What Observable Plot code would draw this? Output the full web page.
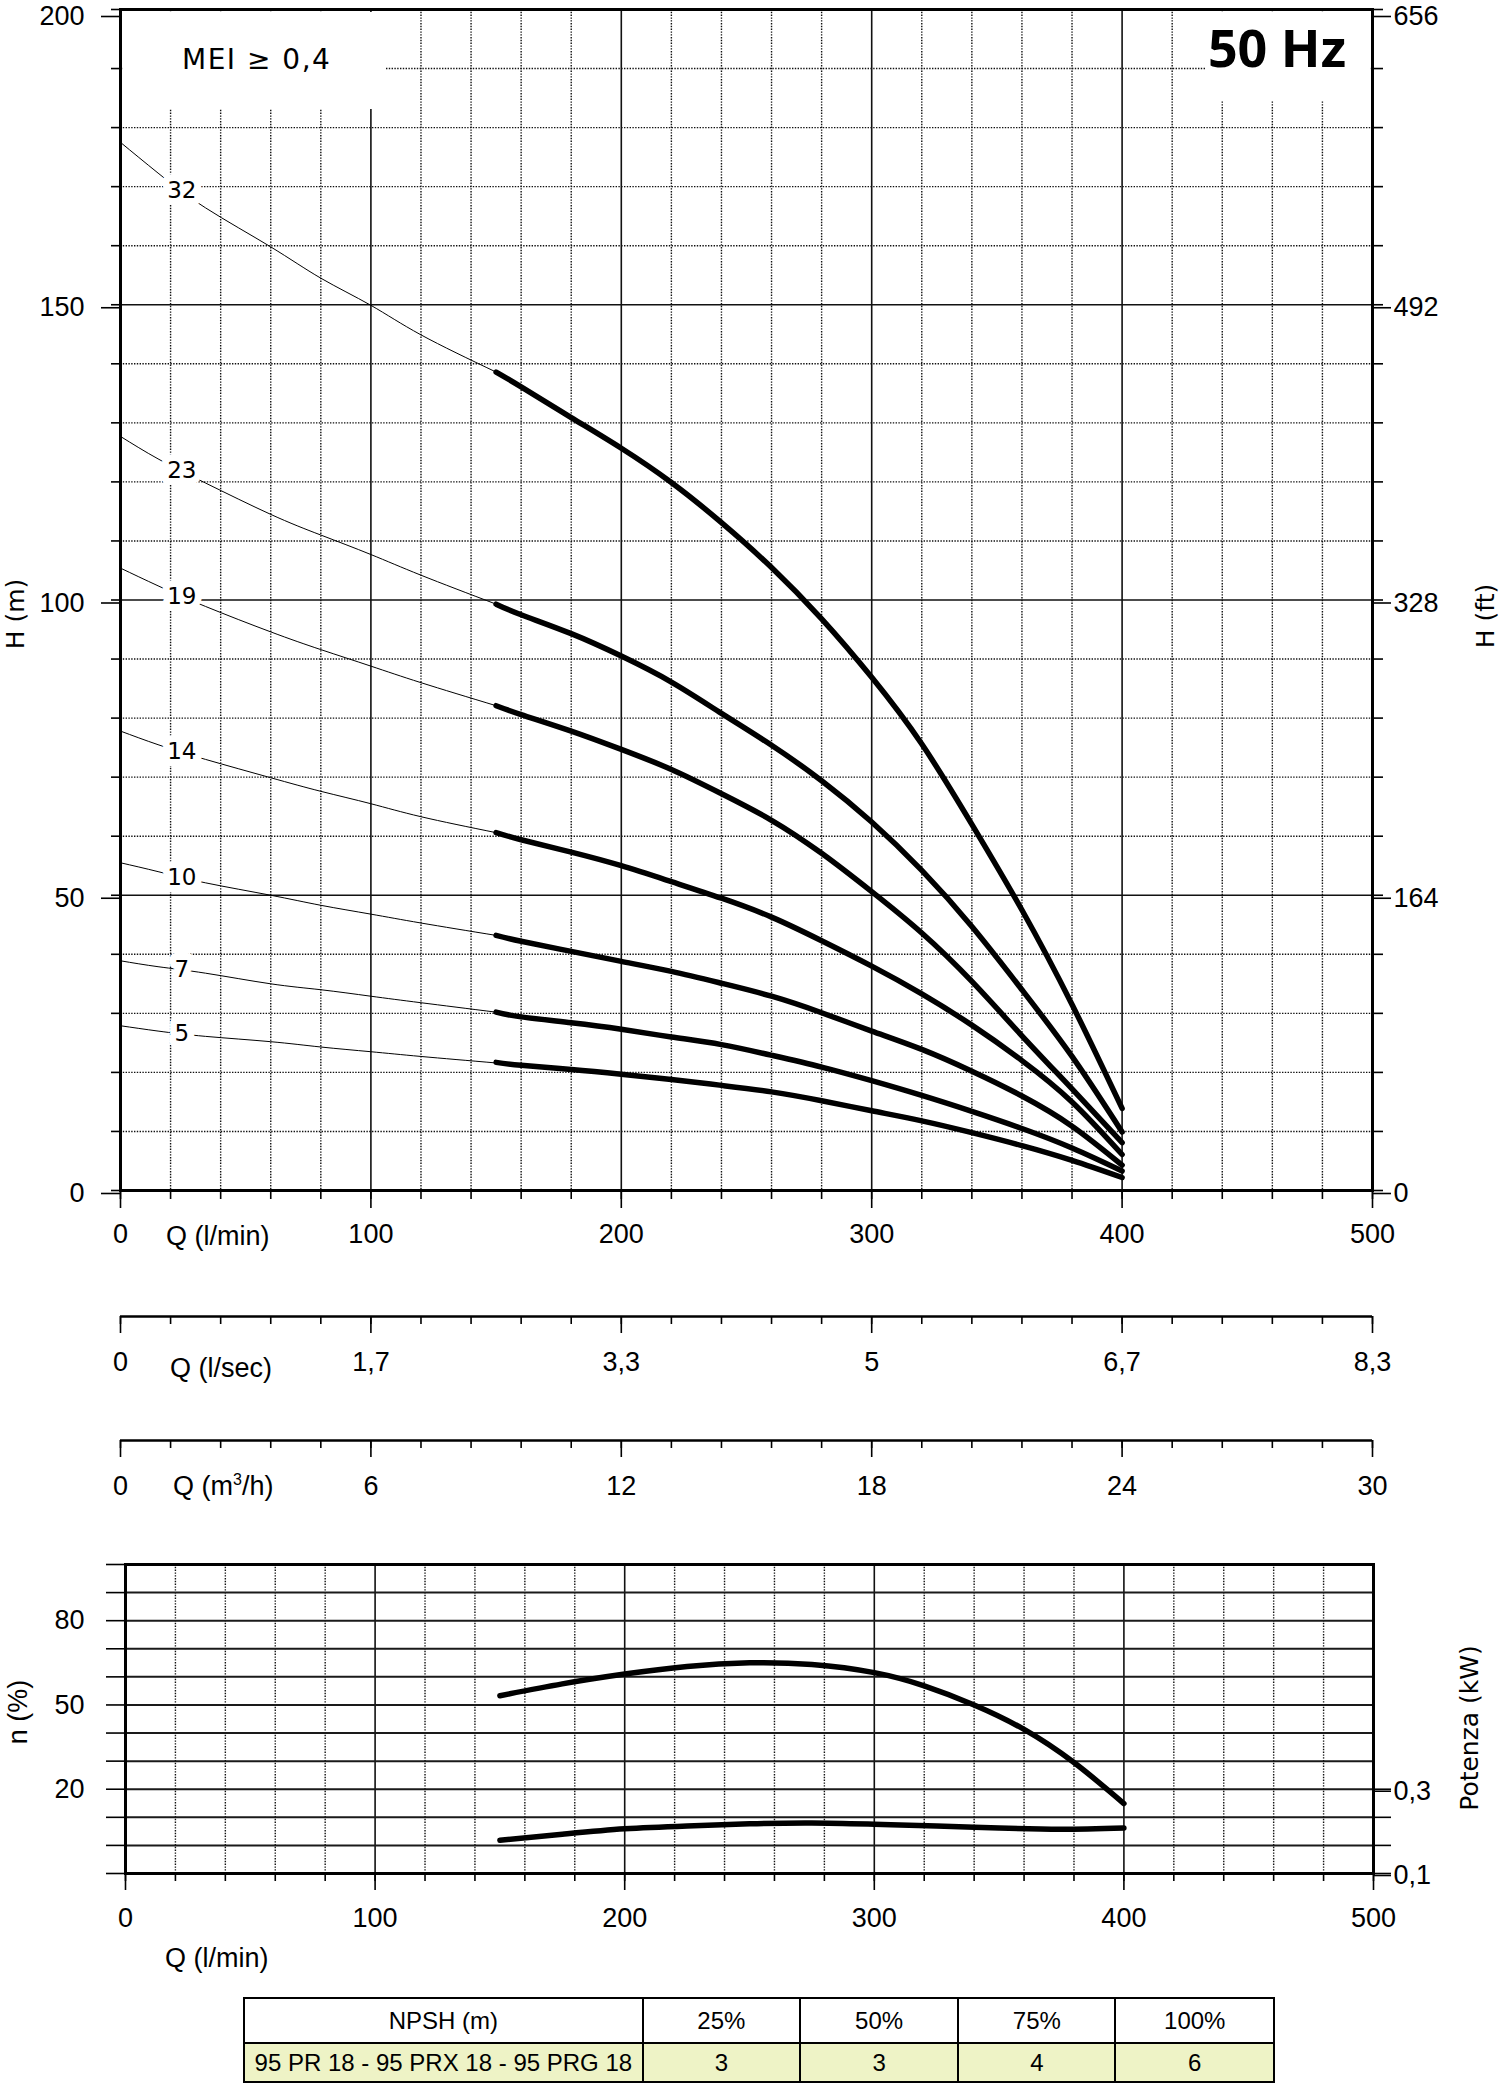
<!DOCTYPE html>
<html><head><meta charset="utf-8">
<script src="https://cdn.jsdelivr.net/npm/d3@7"></script>
<script src="https://cdn.jsdelivr.net/npm/@observablehq/plot@0.6"></script>
<style>
body{margin:0;background:#fff;}
#root{position:relative;width:1500px;height:2086px;overflow:hidden;background:#fff;color:#000;}
.abs{position:absolute;white-space:nowrap;}
.cond{font-family:"Liberation Sans",Arial,sans-serif;}
.wide{font-family:"DejaVu Sans",Verdana,sans-serif;}
.rot{transform:translate(-50%,-50%) rotate(-90deg);}
.vc{transform:translateY(-50%);}
table.npsh{position:absolute;left:243px;top:1997px;width:1032px;border-collapse:collapse;font-size:24px;}
table.npsh td{border:2.5px solid #000;text-align:center;padding:0;}
table.npsh tr.h td{height:43px;background:#fff;}
table.npsh tr.v td{height:37px;background:#eef3c6;}
</style></head><body><div id="root"></div>
<script>
// ---------------- data ----------------
const stages = [32, 23, 19, 14, 10, 7, 5];
// thin (out-of-range) part of each curve, Q in l/min, H in m
const qThin = [0, 15, 34, 60, 80, 100, 120, 150];
const hThin32 = [177.5, 172.3, 166.4, 159.8, 154.5, 149.9, 144.9, 138.6];
const hThin23 = [127.7, 123.9, 119.8, 114.5, 111.0, 107.7, 104.2, 99.3];
const hThin19 = [105.4, 102.4, 98.9, 94.6, 91.6, 88.8, 86.0, 82.1];
const hThin14 = [77.8, 75.5, 73.0, 69.9, 67.6, 65.5, 63.3, 60.6];
const hThin10 = [55.5, 54.0, 52.1, 50.0, 48.3, 46.8, 45.3, 43.2];
const hThin7  = [38.9, 37.9, 36.8, 35.0, 34.0, 32.9, 31.8, 30.2];
const hThin5  = [27.9, 27.0, 26.1, 25.2, 24.3, 23.5, 22.7, 21.6];
// thick (working range) part
const qThick = [150, 160, 180, 200, 220, 240, 260, 280, 300, 320, 340, 360, 380, 400];
const hThick32 = [138.6, 136.1, 130.9, 125.7, 119.9, 113.1, 105.5, 96.8, 86.9, 75.6, 62.0, 47.5, 31.5, 13.9];
const hThick23 = [99.3, 97.5, 94.3, 90.5, 86.1, 80.8, 75.4, 69.4, 62.4, 54.2, 44.7, 34.0, 22.7, 9.9];
const hThick19 = [82.1, 80.6, 77.8, 74.7, 71.3, 67.2, 62.7, 57.1, 50.6, 43.6, 35.4, 26.2, 17.2, 8.1];
const hThick14 = [60.6, 59.4, 57.3, 55.0, 52.3, 49.5, 46.3, 42.3, 38.0, 33.3, 28.0, 22.0, 15.0, 6.1];
const hThick10 = [43.2, 42.2, 40.5, 38.8, 37.1, 35.1, 32.9, 30.1, 27.0, 23.9, 20.2, 16.0, 10.9, 4.3];
const hThick7  = [30.2, 29.4, 28.4, 27.3, 26.0, 24.7, 22.9, 20.9, 18.6, 16.1, 13.4, 10.5, 7.2, 3.3];
const hThick5  = [21.7, 21.2, 20.5, 19.7, 18.8, 17.8, 16.7, 15.2, 13.5, 11.8, 9.8, 7.6, 5.1, 2.2];
// axes
const hTicks = [0, 50, 100, 150, 200];
const ftTicks = ["0", "164", "328", "492", "656"];
const qTicks = [0, 100, 200, 300, 400, 500];
const lsecTicks = ["0", "1,7", "3,3", "5", "6,7", "8,3"];
const m3hTicks = ["0", "6", "12", "18", "24", "30"];
// efficiency / power
const qEff = [150, 175, 200, 225, 250, 275, 300, 320, 340, 360, 380, 400];
const effPct = [53.3, 57.5, 61.0, 63.7, 65.0, 64.4, 61.5, 56.8, 50.0, 41.3, 29.5, 14.9];
const qPow = [150, 175, 200, 225, 250, 275, 300, 325, 350, 375, 400];
const powKw = [0.179, 0.193, 0.206, 0.213, 0.218, 0.220, 0.217, 0.213, 0.208, 0.205, 0.208];
const effTicks = [20, 50, 80];
const kwTickVals = [0.3, 0.1];
const kwTickLabels = ["0,3", "0,1"];
// NPSH table
const npshHeader = ["NPSH (m)", "25%", "50%", "75%", "100%"];
const npshModel = "95 PR 18 - 95 PRX 18 - 95 PRG 18";
const npshValues = [3, 3, 4, 6];

// ---------------- build ----------------
const COND = '"Liberation Sans",Arial,sans-serif';
const WIDE = '"DejaVu Sans",Verdana,sans-serif';
const root = document.getElementById("root");
function place(node, topPx, leftPx) {
  const d = document.createElement("div");
  d.className = "abs"; d.style.top = topPx + "px"; d.style.left = (leftPx || 0) + "px";
  d.appendChild(node); root.appendChild(d); return d;
}
function html(s) { const t = document.createElement("div"); t.innerHTML = s; const n = t.firstElementChild; root.appendChild(n); return n; }

const thinSets = [hThin32, hThin23, hThin19, hThin14, hThin10, hThin7, hThin5];
const thickSets = [hThick32, hThick23, hThick19, hThick14, hThick10, hThick7, hThick5];
const thinRows = [], thickRows = [], labelRows = [];
stages.forEach((s, i) => {
  qThin.forEach((q, j) => thinRows.push({s, q, h: thinSets[i][j]}));
  qThick.forEach((q, j) => thickRows.push({s, q, h: thickSets[i][j]}));
  const a = qThin.indexOf(15), b = qThin.indexOf(34);
  labelRows.push({s, q: (qThin[a] + qThin[b]) / 2, h: (thinSets[i][a] + thinSets[i][b]) / 2});
});

const minorQ = d3.range(20, 500, 20).filter(q => q % 100 !== 0);
const majorQ = [100, 200, 300, 400];
const allQ20 = d3.range(0, 501, 20);
const dotted = {stroke: "#111", strokeWidth: 1.4, strokeDasharray: "1.4,1.4"};
const solid = {stroke: "#111", strokeWidth: 1.6};
const blank = () => "";
const baseStyle = {fontFamily: COND, fontSize: "27px", color: "#000", background: "transparent", overflow: "visible"};
const hTop = hTicks[hTicks.length - 1];
const hLow = hTicks.slice(0, -1);

const topChart = Plot.plot({
  width: 1500, height: 1262, marginLeft: 120, marginRight: 128, marginTop: 9, marginBottom: 72,
  x: {domain: [0, 500], label: null}, y: {domain: [0, 200], label: null},
  style: baseStyle,
  marks: [
    Plot.ruleX(minorQ, dotted),
    Plot.ruleY(d3.range(10, 200, 10).filter(h => h % 50 !== 0), dotted),
    Plot.ruleX(majorQ, solid),
    Plot.ruleY([50, 100, 150], solid),
    Plot.line(thinRows, {x: "q", y: "h", z: "s", stroke: "#000", strokeWidth: 1, curve: "natural"}),
    Plot.line(thickRows, {x: "q", y: "h", z: "s", stroke: "#000", strokeWidth: 5.5, curve: "natural", strokeLinecap: "round"}),
    Plot.text(labelRows, {x: "q", y: "h", text: d => String(d.s), fontFamily: WIDE, fontSize: 23, fill: "#000", stroke: "#fff", strokeWidth: 14, paintOrder: "stroke"}),
    Plot.frame({stroke: "#000", strokeWidth: 3}),
    Plot.axisY({ticks: d3.range(0, 201, 10), tickSize: 9, tickFormat: blank, strokeWidth: 1.6, label: null}),
    Plot.axisY({ticks: hLow, tickSize: 19, tickPadding: 17, dy: 3, strokeWidth: 1.6, label: null}),
    Plot.axisY({ticks: [hTop], tickSize: 19, tickPadding: 17, dy: 7, strokeWidth: 1.6, label: null}),
    Plot.axisY({anchor: "right", ticks: d3.range(0, 201, 10), tickSize: 10, tickFormat: blank, strokeWidth: 1.6, label: null}),
    Plot.axisY({anchor: "right", ticks: hLow, tickSize: 18, tickPadding: 3, dy: 3, strokeWidth: 1.6, tickFormat: d => ftTicks[hTicks.indexOf(d)], label: null}),
    Plot.axisY({anchor: "right", ticks: [hTop], tickSize: 18, tickPadding: 3, dy: 7, strokeWidth: 1.6, tickFormat: d => ftTicks[hTicks.indexOf(d)], label: null}),
    Plot.axisX({ticks: allQ20, tickSize: 9, tickFormat: blank, strokeWidth: 1.6, label: null}),
    Plot.axisX({ticks: qTicks, tickSize: 18, tickPadding: 15, strokeWidth: 1.6, label: null})
  ]
});
place(topChart, 0, 0);

function strip(labels, topPx) {
  const p = Plot.plot({
    width: 1500, height: 90, marginLeft: 120, marginRight: 128, marginTop: 0, marginBottom: 74,
    x: {domain: [0, 500], label: null}, y: {domain: [0, 1], label: null, axis: null},
    style: baseStyle,
    marks: [
      Plot.ruleY([0], {stroke: "#000", strokeWidth: 2.5}),
      Plot.axisX({ticks: allQ20, tickSize: 8, tickFormat: blank, strokeWidth: 1.6, label: null}),
      Plot.axisX({ticks: qTicks, tickSize: 17, tickPadding: 18, strokeWidth: 1.6, tickFormat: d => labels[qTicks.indexOf(d)], label: null})
    ]
  });
  place(p, topPx, 0);
}
strip(lsecTicks, 1300);
strip(m3hTicks, 1424);

const kwToPct = kw => -10 + (kw - 0.1) * 150; // right axis: 0,1 kW at -10 %, 0,3 kW at 20 %
const effRows = qEff.map((q, i) => ({q, n: effPct[i]}));
const powRows = qPow.map((q, i) => ({q, kw: powKw[i]}));
const kwPos = kwTickVals.map(kwToPct);
const bottomChart = Plot.plot({
  width: 1500, height: 400, marginLeft: 125, marginRight: 127, marginTop: 24, marginBottom: 67,
  x: {domain: [0, 500], label: null}, y: {domain: [-10, 100], label: null},
  style: baseStyle,
  marks: [
    Plot.ruleX(minorQ, dotted),
    Plot.ruleX(majorQ, solid),
    Plot.ruleY(d3.range(-10, 101, 10), {stroke: "#1a1a1a", strokeWidth: 2}),
    Plot.line(effRows, {x: "q", y: "n", stroke: "#000", strokeWidth: 5.5, curve: "natural", strokeLinecap: "round"}),
    Plot.line(powRows, {x: "q", y: d => kwToPct(d.kw), stroke: "#000", strokeWidth: 5.5, curve: "natural", strokeLinecap: "round"}),
    Plot.frame({stroke: "#000", strokeWidth: 3}),
    Plot.axisY({ticks: d3.range(-10, 101, 10), tickSize: 19, tickPadding: 22, strokeWidth: 1.6, tickFormat: d => effTicks.includes(d) ? String(d) : "", label: null}),
    Plot.axisY({anchor: "right", ticks: [20, 10, 0, -10], tickSize: 17, tickFormat: blank, strokeWidth: 1.6, label: null}),
    Plot.axisY({anchor: "right", ticks: kwPos, tickSize: 17, tickPadding: 3, dy: 2, strokeWidth: 1.6, tickFormat: d => kwTickLabels[kwPos.findIndex(k => Math.abs(k - d) < 1e-6)], label: null}),
    Plot.axisX({ticks: allQ20, tickSize: 8, tickFormat: blank, strokeWidth: 1.6, label: null}),
    Plot.axisX({ticks: qTicks, tickSize: 17, tickPadding: 17, strokeWidth: 1.6, label: null})
  ]
});
place(bottomChart, 1540, 0);

// overlays: text boxes and axis titles
html('<div class="abs" style="left:123px;top:12px;width:263px;height:97px;background:#fff;"></div>');
html('<div class="abs wide" style="left:182px;top:46px;font-size:28px;line-height:28px;letter-spacing:1.5px;">MEI \u2265 0,4</div>');
html('<div class="abs" style="left:1205px;top:12px;width:165px;height:88px;background:#fff;"></div>');
html('<div class="abs" style="right:154px;top:21px;font-family:\'Open Sans\',sans-serif;font-weight:700;font-size:52px;line-height:52px;">50 Hz</div>');
html('<div class="abs wide rot" style="left:16px;top:614px;font-size:25px;line-height:28px;">H (m)</div>');
html('<div class="abs wide rot" style="left:1486px;top:616px;font-size:25px;line-height:28px;">H (ft)</div>');
html('<div class="abs cond vc" style="left:166px;top:1236px;font-size:27px;line-height:32px;">Q (l/min)</div>');
html('<div class="abs cond vc" style="left:170px;top:1368px;font-size:27px;line-height:32px;">Q (l/sec)</div>');
html('<div class="abs cond vc" style="left:173px;top:1486px;font-size:27px;line-height:32px;">Q (m<sup style="font-size:16px;line-height:0;">3</sup>/h)</div>');
html('<div class="abs cond rot" style="left:18px;top:1712px;font-size:27px;line-height:30px;">n (%)</div>');
html('<div class="abs wide rot" style="left:1470px;top:1728px;font-size:25px;line-height:28px;">Potenza (kW)</div>');
html('<div class="abs cond vc" style="left:165px;top:1958px;font-size:27px;line-height:32px;">Q (l/min)</div>');

// NPSH table
const tbl = document.createElement("table");
tbl.className = "npsh cond";
const widths = [402, 157, 158, 157, 158];
const trH = document.createElement("tr"); trH.className = "h";
npshHeader.forEach((t, i) => { const td = document.createElement("td"); td.textContent = t; td.style.width = widths[i] + "px"; trH.appendChild(td); });
const trV = document.createElement("tr"); trV.className = "v";
[npshModel, ...npshValues.map(String)].forEach(t => { const td = document.createElement("td"); td.textContent = t; trV.appendChild(td); });
tbl.appendChild(trH); tbl.appendChild(trV);
root.appendChild(tbl);
</script></body></html>
